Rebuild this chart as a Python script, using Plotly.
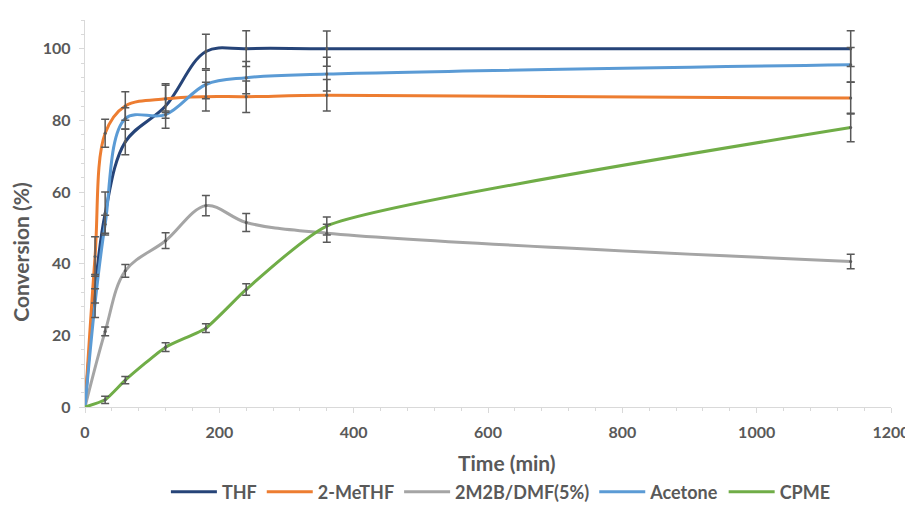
import plotly.graph_objects as go

# ---- data ----
t_fast = [0, 15, 30, 60, 120, 180, 240, 360, 1140]
t_slow = [0, 30, 60, 120, 180, 240, 360, 1140]

thf = [0, 33, 54, 74, 84, 99.2, 100, 100, 100]
thf_err = [0, 4, 6, 3.6, 6.2, 4.8, 5, 4.9, 5]

methf = [0, 42, 76.4, 84, 86, 86.6, 86.6, 87, 86.2]
methf_err = [0, 5.5, 3.9, 4, 3.8, 4, 4.4, 4.4, 4.4]

m2b = [0, 21.1, 38, 46.4, 56.2, 51.5, 48.5, 40.6]
m2b_err = [0, 1.2, 1.8, 2.2, 2.8, 2.5, 2.5, 2]

acetone = [0, 29, 51, 80.5, 81.6, 90, 91.9, 92.9, 95.5]
acetone_err = [0, 4, 2.5, 3, 1, 4, 4.5, 4.7, 4.8]

cpme = [0, 2.0, 7.5, 16.7, 22, 32.8, 50.5, 78]
cpme_err = [0, 1, 1, 1.2, 1.2, 1.6, 2.5, 4]

series = [
    ("THF", t_fast, thf, thf_err, "#264478", 1.0),
    ("2-MeTHF", t_fast, methf, methf_err, "#ED7D31", 1.0),
    ("2M2B/DMF(5%)", t_slow, m2b, m2b_err, "#A5A5A5", 1.0),
    ("Acetone", t_fast, acetone, acetone_err, "#5B9BD5", 1.0),
    ("CPME", t_slow, cpme, cpme_err, "#70AD47", 0.5),
]

FONT = "Lato"
TXT = "#595959"

fig = go.Figure()
for name, x, y, e, c, s in series:
    fig.add_trace(go.Scatter(
        x=x, y=y, name=name, mode="lines",
        line=dict(color=c, width=3, shape="spline", smoothing=s),
    ))
for name, x, y, e, c, s in series:
    fig.add_trace(go.Scatter(
        x=x[1:], y=y[1:], mode="markers", showlegend=False, hoverinfo="skip",
        marker=dict(size=3, color="#595959"),
        error_y=dict(type="data", array=e[1:], visible=True,
                     color="#595959", thickness=1.5, width=4),
    ))

# page body has an 8px margin: figure is sized/offset to compensate
fig.update_layout(
    width=905, height=499,
    margin=dict(l=77, r=22, t=12, b=100, autoexpand=False),
    paper_bgcolor="white", plot_bgcolor="white",
    font=dict(family=FONT, color=TXT, size=14),
    showlegend=True,
    legend=dict(orientation="h", x=0.516, xanchor="center", y=-0.22, yanchor="middle",
                font=dict(family=FONT, size=18, color=TXT, weight="bold"),
                itemwidth=46, tracegroupgap=0, traceorder="normal"),
    annotations=[
        dict(text="Time (min)", xref="paper", yref="paper", x=0.5236, y=-0.1447,
             xanchor="center", yanchor="middle", showarrow=False,
             font=dict(family=FONT, size=21, color=TXT, weight="bold")),
        dict(text="Conversion (%)", xref="paper", yref="paper", x=-0.080, y=0.40,
             xanchor="center", yanchor="middle", showarrow=False, textangle=-90,
             font=dict(family=FONT, size=21, color=TXT, weight="bold")),
    ],
)
fig.update_xaxes(
    range=[0, 1200], dtick=200, tick0=0, automargin=False,
    showline=True, linecolor="#D9D9D9", linewidth=1.3,
    ticks="outside", ticklen=5, tickcolor="#D9D9D9",
    minor=dict(dtick=40, ticks="outside", ticklen=3, tickcolor="#D9D9D9"),
    showgrid=False, zeroline=False,
    tickfont=dict(family=FONT, size=16, color=TXT, weight="bold"),
    ticklabelstandoff=6,
)
fig.update_yaxes(
    range=[0, 108], dtick=20, tick0=0, automargin=False,
    showline=True, linecolor="#D9D9D9", linewidth=1.3,
    ticks="outside", ticklen=5, tickcolor="#D9D9D9",
    minor=dict(dtick=4, ticks="outside", ticklen=3, tickcolor="#D9D9D9"),
    showgrid=False, zeroline=False,
    tickfont=dict(family=FONT, size=16, color=TXT, weight="bold"),
    ticklabelstandoff=5,
)

fig.write_html("out.html")
